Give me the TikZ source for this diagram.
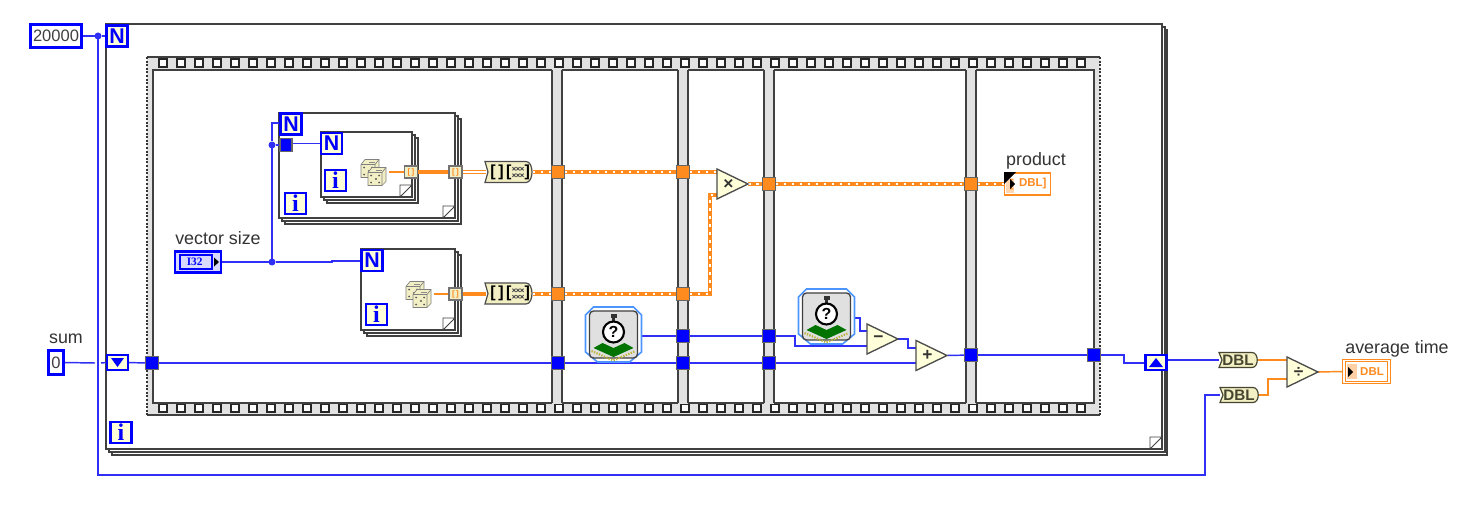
\documentclass[tikz,border=0pt]{standalone}
\usepackage{fontspec}
\setmainfont{Liberation Sans}
\setmonofont{Liberation Mono}
\newfontfamily\serifb{Liberation Serif}
\pgfdeclarelayer{frames}
\pgfdeclarelayer{wires}
\pgfsetlayers{frames,wires,main}
\definecolor{lvblue}{HTML}{0000FF}
\definecolor{wblue}{HTML}{2F2FF5}
\definecolor{lvor}{HTML}{FF8A1E}
\definecolor{pale}{HTML}{FFFFD9}
\definecolor{framec}{HTML}{404040}
\definecolor{bandc}{HTML}{E2E2E2}
\definecolor{convc}{HTML}{F2EFC4}
\definecolor{olive}{HTML}{454530}
\tikzset{
  sz/.style 2 args={minimum width=#1*0.75pt,minimum height=#2*0.75pt,inner sep=0pt,outer sep=0pt},
  wire/.style={draw=wblue,line width=1.1pt},
  owire/.style={draw=lvor,line width=1.1pt},
  othick/.style={draw=lvor,line width=2.4pt},
  odouble/.style={draw=lvor,line width=0.8pt,double=white,double distance=1pt},
  oarr/.style={draw=lvor,line width=3.5pt,postaction={draw=white,line width=1.2pt,dash pattern=on 2.2pt off 3.8pt}},
  frameline/.style={draw=framec,line width=1.1pt,fill=white},
  hole/.style={draw=black!85,line width=1pt,fill=white},
  ubox/.style={sz={21}{21},draw=lvblue,line width=2.2pt,fill=pale,text=lvblue},
  nbox/.style={ubox,font=\bfseries\fontsize{16}{16}\selectfont},
  ibox/.style={ubox,font=\serifb\bfseries\fontsize{18}{18}\selectfont},
  dot/.style={circle,fill=wblue,sz={7}{7}},
  ttun/.style={sz={13}{13},draw=black!60,line width=1pt,fill=lvblue},
  otun/.style={sz={13}{13},draw=black!60,line width=1pt,fill=lvor},
  xtun/.style={sz={13}{12},draw=black!55,line width=1pt,fill=convc,text=lvor,font=\bfseries\fontsize{6}{6}\selectfont},
  const/.style={draw=lvblue,line width=2.2pt,fill=white,text=black!75,inner sep=0pt,outer sep=0pt,font=\fontsize{12.4}{14}\selectfont},
  lab/.style={text=black!80,font=\fontsize{13.4}{15}\selectfont,inner sep=0pt},
  sr/.style={sz={21}{15},draw=lvblue,line width=2.2pt,fill=pale},
  dbltext/.style={text=olive,font=\bfseries\fontsize{11.4}{12}\selectfont},
  indtext/.style={text=lvor,font=\bfseries\fontsize{8.6}{9}\selectfont},
  die/.pic={
    \draw[draw=black!50,line width=.5pt,fill=convc] (-9,-4)--(-5,-9)--(9,-9)--(9,5)--(5,9)--(-9,9)--cycle;
    \draw[draw=black!50,line width=.5pt] (-9,-4)--(5,-4)--(5,9) (5,-4)--(9,-9);
    \fill[black!65] (-1,2.5) circle (1.2) (-6,-1) circle (1) (2,6) circle (1) (-6,6) circle (1) (2,-1) circle (1);
    \fill[black!45] (-1,-6.5) rectangle (5,-5.5);
  },
  dice/.pic={
    \pic at (-3,-3.5) {die};
    \pic at (4,4.5) {die};
  },
  stopw/.pic={
    \draw[draw=blue!60!cyan!70,line width=1.2pt,fill=white] (-28,-20)--(-20,-28)--(20,-28)--(28,-20)--(28,17)--(16,27)--(-16,27)--(-28,17)--cycle;
    \draw[draw=black!75,line width=1pt,fill=black!12,rounded corners=3pt] (-24,-24) rectangle (24,23);
    \fill[black!80] (-3,-21) rectangle (3,-17);
    \fill[black!80] (-1.5,-18) rectangle (1.5,-13);
    \draw[draw=black,line width=1.6pt,fill=white] (0,-3) circle (10.5);
    \node[text=black,font=\bfseries\fontsize{12}{12}\selectfont,inner sep=0pt] at (0,-3) {?};
    \fill[green!45!black] (-20,13)--(-11,8)--(0,13)--(11,8)--(20,13)--(0,22)--cycle;
    \draw[draw=yellow!70!black,line width=1.6pt,dash pattern=on 1pt off 1pt] (-22,16)--(0,25.5)--(22,16);
  }
}
% for-loop frame: x1 y1 x2 y2 with two stacked copies behind
\newcommand{\loopframe}[4]{%
  \draw[frameline] (#1+6,#2+6) rectangle (#3+6,#4+6);
  \draw[frameline] (#1+3,#2+3) rectangle (#3+3,#4+3);
  \draw[frameline] (#1,#2) rectangle (#3,#4);
  \draw[draw=framec,line width=.7pt,fill=white] (#3-12,#4) -- (#3-12,#4-12) -- (#3,#4-12) -- cycle;
}
% sequence divider bar: grey fill, side lines only, so that it joins the film band
\newcommand{\seqbar}[2]{%
  \fill[bandc] (#1,69) rectangle (#2,404);
  \draw[framec,line width=1.1pt] (#1,70) -- (#1,403) (#2,70) -- (#2,403);
}
\newcommand{\prim}[4]{%
  \draw[draw=black!70,line width=1pt,fill=pale] (#2,#3-15) -- (#2+31,#3) -- (#2,#3+15) -- cycle;
  \node[sz={31}{30},text=black!80,font=\bfseries\fontsize{13}{13}\selectfont] (#1) at (#2+15.5,#3) {\hspace*{-6pt}#4};
}
\newcommand{\conv}[4]{%
  \draw[draw=olive,line width=.9pt,fill=convc] (#2-19,#3-7.5) -- (#2+14,#3-7.5) .. controls (#2+21,#3-7.5) and (#2+21,#3+7.5) .. (#2+14,#3+7.5) -- (#2-19,#3+7.5) -- (#2-16,#3) -- cycle;
  \node[sz={38}{15},dbltext] (#1) at (#2,#3) {#4};
}
\newcommand{\build}[3]{%
  \draw[draw=black!70,line width=.9pt,fill=convc] (#2-24,#3-10.5) -- (#2+17,#3-10.5) .. controls (#2+25,#3-10.5) and (#2+25,#3+10.5) .. (#2+17,#3+10.5) -- (#2-24,#3+10.5) -- (#2-21,#3) -- cycle;
  \node[sz={47}{21}] (#1) at (#2,#3) {};
  \node[inner sep=0pt,font=\bfseries\fontsize{12}{12}\selectfont,text=black] at (#2-12,#3) {[\,]};
  \node[inner sep=0pt,font=\bfseries\fontsize{12}{12}\selectfont,text=black] at (#2+9,#3) {[\hspace{10pt}]};
  \foreach \dx in {5,9,13} \foreach \dy in {-3.2,3.2}
    \draw[black!70,line width=.6pt] (#2+\dx-1.6,#3+\dy-1.6) -- (#2+\dx+1.6,#3+\dy+1.6) (#2+\dx-1.6,#3+\dy+1.6) -- (#2+\dx+1.6,#3+\dy-1.6);
}
\begin{document}
\begin{tikzpicture}[x=0.75pt,y=-0.75pt]
\useasboundingbox (0,0) rectangle (1465,528);

\begin{pgfonlayer}{frames}
  \fill[white] (0,0) rectangle (1465,528);
  % outer while loop
  \draw[frameline] (112,30) rectangle (1167,455);
  \draw[frameline] (109,27) rectangle (1165,452);
  \draw[frameline] (106,24) rectangle (1162,449);
  \draw[draw=framec,line width=.7pt,fill=white] (1150,449) -- (1150,437) -- (1162,437) -- cycle;
  % flat sequence
  \fill[bandc] (147,57) rectangle (1100,415);
  \draw[framec,line width=1.1pt] (147,57) -- (1100,57) (147,415) -- (1100,415);
  \draw[black!80,line width=1.1pt,dash pattern=on 1.5pt off 1.2pt] (147,57) -- (147,415) (1100,57) -- (1100,415);
  \foreach \i in {0,...,51} {
    \draw[hole] (159+18*\i,59) rectangle (167+18*\i,67);
    \draw[hole] (159+18*\i,404) rectangle (167+18*\i,412);
  }
  \draw[frameline] (153,70) rectangle (1094,403);
  \seqbar{552}{562}
  \seqbar{678}{688}
  \seqbar{764}{774}
  \seqbar{966}{976}
  % inner loops
  \loopframe{279}{113}{455}{218}
  \loopframe{321}{132}{412}{197}
  \loopframe{361}{249}{455}{330}
\end{pgfonlayer}

% constants and controls
\node[const,minimum width=38.5pt,minimum height=17pt] (cN) at (56,36) {20000};
\node[const,minimum width=11.5pt,minimum height=18.5pt] (cSum) at (56,362.5) {0};
\node[lab] (lSum) at (66,339) {sum};
\node[lab] (lVec) at (218,238) {vector size};
\node[sz={46}{21},draw=lvblue,line width=2pt,fill=blue!15,text=lvblue,font=\serifb\bfseries\fontsize{8.5}{9}\selectfont] (vec) at (198,262) {\hspace*{-5pt}I32};
\draw[draw=lvblue,line width=.8pt] (180,255) rectangle (212,269);
\fill[black] (214,257.5) -- (219,262) -- (214,266.5) -- cycle;

% outer structure terminals
\node[nbox] (nOut) at (117,36) {N};
\node[ibox] (iOut) at (121,432.5) {i};
\node[sr] (srL) at (117.5,362.5) {};
\fill[lvblue] (111,358) -- (124,358) -- (117.5,367) -- cycle;
\node[sr] (srR) at (1156,362.5) {};
\fill[lvblue] (1149,367) -- (1163,367) -- (1156,358) -- cycle;

% upper nested loops
\node[nbox] (nA) at (291,124) {N};
\node[ibox] (iA) at (295.5,203.5) {i};
\node[nbox] (nB) at (331.5,143.5) {N};
\node[ibox] (iB) at (335.5,180.5) {i};
\node[sz={12}{13},draw=black!60,line width=1pt,fill=lvblue] (tA) at (286,145) {};
\pic at (373,172) {dice};
\node[sz={1}{16}] (diceA) at (388,172) {};
\node[xtun] (xA) at (411,172) {[\,]};
\node[xtun] (xB) at (455.5,172) {[\,]};
\build{bA}{509}{172}

% lower loop
\node[nbox] (nC) at (372,260.5) {N};
\node[ibox] (iC) at (376.5,314.5) {i};
\pic at (418,294) {dice};
\node[sz={1}{16}] (diceB) at (433,294) {};
\node[xtun] (xC) at (455.5,294) {[\,]};
\build{bB}{509}{293.5}

% sequence tunnels
\node[otun] (oa1) at (558,172) {};
\node[otun] (oa2) at (683,172) {};
\node[otun] (ob1) at (558,294) {};
\node[otun] (ob2) at (683,294) {};
\node[otun] (oc1) at (769,184) {};
\node[otun] (oc2) at (971,184) {};
\node[ttun] (s1) at (152,363) {};
\node[ttun] (s2) at (558,363) {};
\node[ttun] (s3) at (683,363) {};
\node[ttun] (s4) at (769,363) {};
\node[ttun] (t1) at (683,336) {};
\node[ttun] (t2) at (769,336) {};
\node[ttun] (u1) at (971,355) {};
\node[ttun] (u2) at (1094,355) {};

% timers
\node[sz={57}{56}] (sw1) at (613.5,335) {};
\pic at (613.5,335) {stopw};
\node[sz={57}{56}] (sw2) at (826.5,317) {};
\pic at (826.5,317) {stopw};

% primitives
\prim{mul}{717}{184}{×}
\prim{sub}{867}{339}{−}
\prim{add}{916}{355.5}{+}
\prim{dvd}{1287}{372}{÷}

% conversions
\conv{dA}{1238}{360}{DBL}
\conv{dB}{1239}{395}{DBL}

% indicators
\node[sz={46}{22},draw=lvor,line width=1.1pt,fill=white,indtext] (prod) at (1027.5,184) {\hspace*{8pt}DBL]};
\fill[lvor!35] (1006,179) rectangle (1014,193);
\node[indtext,inner sep=0pt] at (1011.5,184.5) {[};
\fill[black] (1004,172) -- (1016,172) -- (1004,184) -- cycle;
\fill[black] (1010,179) -- (1015,184) -- (1010,189) -- cycle;
\node[lab] (lProd) at (1036,161) {product};
\node[sz={45}{22},draw=lvor,line width=.9pt,double=white,double distance=1pt,fill=white] (avg) at (1366.5,371.5) {};
\fill[lvor!40] (1347,364) rectangle (1357,379);
\fill[black] (1348,367) -- (1353,372) -- (1348,377) -- cycle;
\node[indtext,inner sep=0pt] at (1372,372) {DBL};
\node[lab] (lAvg) at (1397,349) {average time};

% junctions
\node[dot] (j1) at (98,36) {};
\node[dot] (j2) at (272,145) {};
\node[dot] (j3) at (272,262) {};

\coordinate (wc) at (1205,475);
\coordinate (gapL) at (95,363);
\coordinate (gapR) at (101,363);
\coordinate (vecStep) at (332,261);
\coordinate (aTop) at (272,123);
\coordinate (arrBend) at (710,195);
\coordinate (subIn) at (795,346);
\coordinate (sw2Out) at (860,331);
\coordinate (subOut) at (908,348);
\coordinate (srBend) at (1124,363);
\coordinate (dbBend) at (1268,379);

\begin{pgfonlayer}{wires}
  \draw[wire] (cN.east) -- (j1);
  \draw[wire] (j1) -- (nOut.west);
  \draw[wire] (j1) |- (wc) |- (dB.west);
  \draw[wire] (cSum.east) -- (gapL) (gapR) -- (srL.west);
  \draw[wire] (srL.east) -- (s1.west);
  \draw[wire] (s1) -- (s2);
  \draw[wire] (s2) -- (s3);
  \draw[wire] (s3) -- (s4);
  \draw[wire] (s4) -- (add.west |- s4);
  \draw[wire] (vec.east) -- (j3);
  \draw[wire] (j3) -| (vecStep) -- (nC.west |- vecStep);
  \draw[wire] (j3) -- (j2);
  \draw[wire] (j2) -- (aTop) -- (nA.west |- aTop);
  \draw[wire] (j2) -- (tA.west);
  \draw[wire] (tA.east |- nB) -- (nB.west);
  \draw[wire] (sw1.east |- t1) -- (t1);
  \draw[wire] (t1) -- (t2);
  \draw[wire] (t2) -| (subIn) -- (sub.west |- subIn);
  \draw[wire] (sw2.east |- 0,318) -| (sw2Out) -- (sub.west |- sw2Out);
  \draw[wire] (sub.east) -| (subOut) -- (add.west |- subOut);
  \draw[wire] (add.east) -- (u1);
  \draw[wire] (u1) -- (u2);
  \draw[wire] (u2) -| (srBend) -- (srR.west |- srBend);
  \draw[wire] (srR.east |- dA) -- (dA.west);

  \draw[owire] (diceA) -- (xA.west);
  \draw[othick] (xA.east) -- (xB.west);
  \draw[odouble] (xB.east) -- (bA.west);
  \draw[owire] (diceB) -- (xC.west);
  \draw[othick] (xC.east) -- (bB.west |- xC);
  \draw[oarr] (bA.east) -- (oa1);
  \draw[oarr] (oa1) -- (oa2);
  \draw[oarr] (oa2) -- (mul.west |- oa2);
  \draw[oarr] (bB.east |- ob1) -- (ob1);
  \draw[oarr] (ob1) -- (ob2);
  \draw[oarr] (ob2) -| (arrBend) -- (mul.west |- arrBend);
  \draw[oarr] (mul.east) -- (oc1);
  \draw[oarr] (oc1) -- (oc2);
  \draw[oarr] (oc2) -- (prod.west);
  \draw[owire] (dA.east) -- (dvd.west |- dA);
  \draw[owire] (dB.east) -| (dbBend) -- (dvd.west |- dbBend);
  \draw[owire] (dvd.east) -- (avg.west);
\end{pgfonlayer}
\end{tikzpicture}
\end{document}
